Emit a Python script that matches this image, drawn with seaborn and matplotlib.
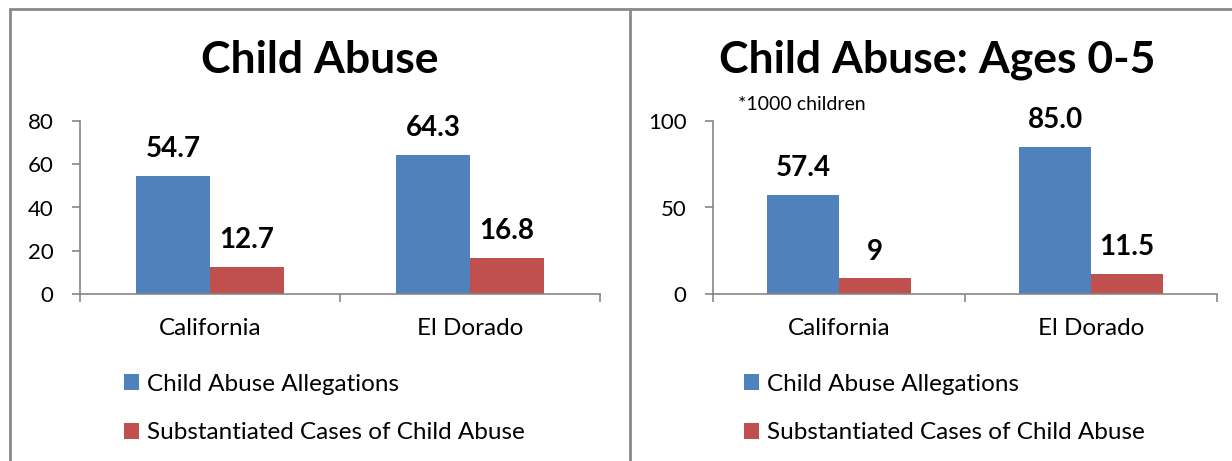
import matplotlib
matplotlib.use("Agg")
import matplotlib.pyplot as plt
from matplotlib.lines import Line2D
import pandas as pd
import seaborn as sns

sns.set_theme(style="white")
plt.rcParams["font.family"] = ["Lato", "DejaVu Sans"]
plt.rcParams["text.color"] = "black"

regions = ["California", "El Dorado"]
series = ["Child Abuse Allegations", "Substantiated Cases of Child Abuse"]

all_allegations = [54.7, 64.3]
all_substantiated = [12.7, 16.8]
all_labels_alleg = ["54.7", "64.3"]
all_labels_subst = ["12.7", "16.8"]

young_allegations = [57.4, 85.0]
young_substantiated = [9, 11.5]
young_labels_alleg = ["57.4", "85.0"]
young_labels_subst = ["9", "11.5"]

left_yticks = [0, 20, 40, 60, 80]
right_yticks = [0, 50, 100]

colors = ["#4F81BD", "#C0504D"]
W, H = 1232, 461


def long_frame(alleg, subst):
    rows = []
    for r, a, s in zip(regions, alleg, subst):
        rows.append({"Region": r, "Series": series[0], "Rate": a})
        rows.append({"Region": r, "Series": series[1], "Rate": s})
    return pd.DataFrame(rows)


def px_axes(fig, x0, x1, ytop, ybot):
    return fig.add_axes([x0 / W, (H - ybot) / H, (x1 - x0) / W, (ybot - ytop) / H])


def draw_panel(ax, df, labels, yticks, title, title_x, legend_x, fig):
    sns.barplot(data=df, x="Region", y="Rate", hue="Series", order=regions,
                hue_order=series, palette=colors, width=0.57, saturation=1,
                edgecolor="none", ax=ax, legend=True)
    ax.set_ylim(yticks[0], yticks[-1])
    ax.set_xlim(-0.5, 1.5)
    ax.set_yticks(yticks)
    ax.set_xticks([0, 1])
    ax.set_xticklabels(regions)
    ax.set_xticks([-0.5, 0.5, 1.5], minor=True)
    ax.tick_params(axis="x", which="major", length=0, pad=17, labelsize=17.5,
                   labelcolor="black")
    ax.tick_params(axis="x", which="minor", bottom=True, length=6, width=1.2,
                   color="#868686", direction="out")
    ax.tick_params(axis="y", left=True, length=6, width=1.2, color="#868686",
                   direction="out", labelsize=16, pad=13, labelcolor="black")
    ax.set_xlabel("")
    ax.set_ylabel("")
    for side in ("top", "right"):
        ax.spines[side].set_visible(False)
    for side in ("left", "bottom"):
        ax.spines[side].set_color("#868686")
        ax.spines[side].set_linewidth(1.2)
    for cont, labs in zip(ax.containers, labels):
        ax.bar_label(cont, labels=labs, padding=10, fontsize=20,
                     fontweight="bold", color="black")
    handles, hl = ax.get_legend_handles_labels()
    ax.get_legend().remove()
    leg = fig.legend(handles, hl, loc="upper left",
                     bbox_to_anchor=(legend_x / W, (H - 374) / H),
                     frameon=False, fontsize=17.5, handlelength=0.63,
                     handleheight=0.63, handletextpad=0.3, labelspacing=1.13,
                     borderaxespad=0, borderpad=0)
    for t in leg.get_texts():
        t.set_color("black")
    fig.text(title_x / W, (H - 60) / H, title, ha="center", va="center",
             fontsize=32, fontweight="bold", color="black")


fig = plt.figure(figsize=(W / 100, H / 100), dpi=100)

ax1 = px_axes(fig, 80, 600, 121, 294)
draw_panel(ax1, long_frame(all_allegations, all_substantiated),
           [all_labels_alleg, all_labels_subst], left_yticks,
           "Child Abuse", 320, 124, fig)

ax2 = px_axes(fig, 713, 1217, 121, 294)
draw_panel(ax2, long_frame(young_allegations, young_substantiated),
           [young_labels_alleg, young_labels_subst], right_yticks,
           "Child Abuse: Ages 0-5", 937, 744, fig)

fig.text(738 / W, (H - 105) / H, "*1000 children", ha="left", va="center",
         fontsize=14, color="black")

# panel frames
frame = dict(color="#8A8A8A", linewidth=2, transform=fig.transFigure)
fig.add_artist(Line2D([10 / W, 1], [(H - 9) / H] * 2, **frame))
fig.add_artist(Line2D([10 / W] * 2, [0, (H - 9) / H], **frame))
fig.add_artist(Line2D([630 / W] * 2, [0, (H - 9) / H], **frame))

fig.savefig("out.png", dpi=100)
